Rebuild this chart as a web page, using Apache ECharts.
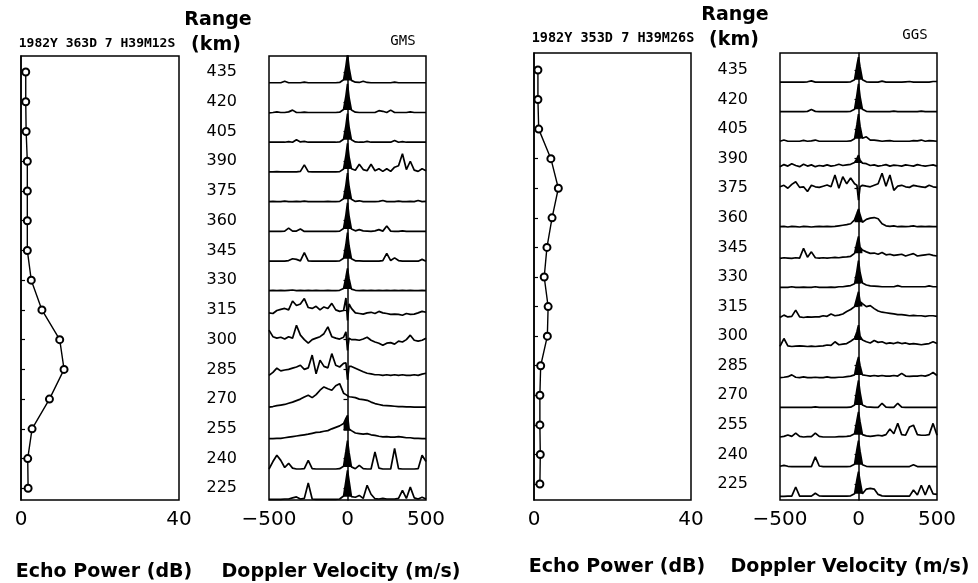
<!DOCTYPE html>
<html>
<head>
<meta charset="utf-8">
<title>Echo power and Doppler spectra, GMS / GGS</title>
<script src="https://cdn.jsdelivr.net/npm/echarts@6.0.0/dist/echarts.min.js"></script>
<style>
html, body { margin: 0; padding: 0; background: #fff; }
#chart { width: 978px; height: 583px; }
</style>
</head>
<body>
<div id="chart"></div>
<script>
// range gates, top to bottom (km)
var ranges = [435, 420, 405, 390, 375, 360, 345, 330, 315, 300, 285, 270, 255, 240, 225];

// doppler velocity samples (m/s), denser round 0
var velocities = [-500, -475, -450, -425, -400, -375, -350, -325, -300, -275, -250, -225, -200, -175, -150, -125, -100, -75, -50, -25,
  -10, 0, 10,
  25, 50, 75, 100, 125, 150, 175, 200, 225, 250, 275, 300, 325, 350, 375, 400, 425, 450, 475, 500];

// echo power (dB) per gate
var gmsPower = [1.2, 1.2, 1.3, 1.6, 1.6, 1.6, 1.6, 2.6, 5.3, 9.8, 10.9, 7.2, 2.8, 1.7, 1.8];
var ggsPower = [1.0, 1.0, 1.2, 4.3, 6.2, 4.6, 3.3, 2.6, 3.6, 3.4, 1.7, 1.5, 1.5, 1.6, 1.5];

// spectral amplitude, % of one gate spacing above the trace baseline
var gmsSpectra = [
  [4,4,4,4,9,4,4,4,4,6,4,4,4,4,4,4,4,4,5,14,  60,100,55,  12,6,5,9,5,4,4,4,4,4,4,6,4,4,4,4,4,4,4,4], // 435
  [3,4,6,4,4,6,12,4,4,5,4,4,4,4,4,4,4,4,5,14,  60,100,55,  12,5,4,4,4,4,4,10,8,4,12,4,4,4,4,6,4,4,4,4], // 420
  [4,4,4,4,4,6,4,12,5,7,4,4,4,4,4,4,4,4,5,14,  60,100,55,  12,5,4,4,7,4,4,4,4,4,4,10,4,6,4,4,4,4,4,4], // 405
  [4,4,5,4,4,4,4,4,6,28,5,4,4,4,4,4,4,4,5,14,  60,100,55,  15,10,30,12,8,30,8,15,6,15,6,20,25,65,12,40,10,6,15,8], // 390
  [4,5,4,4,6,4,4,5,4,6,4,4,4,4,4,5,4,4,5,14,  60,100,55,  12,5,7,4,4,4,4,5,8,4,4,4,6,4,4,5,4,8,4,5], // 375
  [4,4,4,4,5,15,5,5,12,4,4,4,4,4,4,4,4,4,5,14,  60,100,55,  12,6,10,6,5,4,6,10,5,22,5,4,4,6,4,4,4,4,4,4], // 360
  [4,4,4,4,4,6,12,10,5,33,5,4,4,4,4,4,4,4,5,14,  60,100,55,  12,5,5,4,4,4,4,4,6,30,6,15,6,4,4,4,4,4,10,4], // 345
  [5,6,5,6,5,6,7,5,6,5,6,5,6,5,5,6,5,5,6,12,  50,80,45,  10,6,5,6,5,6,5,6,5,6,5,6,5,6,5,6,5,5,6,5], // 330
  [30,28,38,42,45,40,70,55,60,78,48,45,52,40,50,45,62,40,35,38,  80,5,60,  45,30,28,26,30,32,28,35,30,28,25,26,25,22,28,25,26,30,35,32], // 315
  [72,50,45,48,42,50,45,88,55,40,28,40,45,50,60,83,50,45,42,48,  66,4,45,  40,40,38,42,48,38,32,28,21,28,30,25,35,32,40,55,38,35,38,45], // 300
  [20,30,44,35,38,40,44,48,54,40,45,88,25,71,50,45,93,54,48,60,  62,5,50,  50,44,38,32,27,25,22,22,20,22,20,22,20,22,20,20,22,20,24,27], // 285
  [13,15,18,20,22,26,30,35,40,47,53,45,55,70,81,75,70,85,92,60,  55,50,48,  47,45,40,38,36,30,25,22,19,18,17,16,15,15,14,14,13,13,13,13], // 270
  [7,7,8,8,10,12,14,16,18,20,22,25,28,29,32,34,40,45,50,58,  75,85,40,  34,26,24,22,24,20,18,15,13,14,12,12,14,12,10,10,8,8,7,7], // 255
  [5,30,51,34,10,24,8,5,5,6,34,6,5,5,5,5,5,5,6,14,  65,100,60,  12,6,17,6,5,5,62,8,5,5,5,74,6,5,5,5,5,6,51,30], // 240
  [3,3,3,3,4,4,8,11,4,6,58,4,3,3,3,3,3,3,4,14,  65,100,65,  12,10,16,6,50,20,5,4,6,4,4,4,6,33,6,44,8,4,10,4] // 225
];

var ggsSpectra = [
  [4,4,4,4,4,4,4,5,8,4,4,4,4,4,4,4,4,4,5,12,  60,88,55,  12,5,4,4,4,7,4,4,4,4,4,5,6,4,4,4,4,4,6,6], // 435
  [4,4,4,4,4,4,4,5,11,5,4,4,4,4,4,4,4,4,5,12,  60,98,55,  12,5,4,4,4,4,4,4,6,4,4,4,4,4,4,6,4,4,4,4], // 420
  [4,8,4,4,4,4,7,4,5,8,4,4,4,4,4,4,4,4,5,12,  60,96,55,  14,19,8,8,6,4,5,6,4,4,4,4,4,6,5,8,4,6,5,4], // 405
  [18,25,20,28,22,18,26,20,24,18,22,20,24,20,22,26,22,24,26,32,  45,57,40,  30,28,22,24,20,22,25,20,23,22,20,24,22,20,25,22,20,22,24,20], // 390
  [50,55,45,58,67,48,50,34,55,50,48,52,56,50,90,45,84,60,80,60,  55,5,50,  55,52,50,55,60,96,52,90,38,52,55,50,48,55,52,50,48,55,50,48], // 375
  [15,16,14,16,15,14,16,15,14,15,16,15,16,15,16,18,20,22,25,38,  60,75,55,  30,40,44,46,42,25,18,16,18,15,16,15,16,18,15,16,15,16,15,15], // 360
  [8,10,9,8,10,9,42,12,30,10,9,10,9,10,11,10,12,13,15,25,  60,82,45,  36,30,25,26,22,28,20,22,18,20,22,16,20,24,16,18,20,22,18,16], // 345
  [10,10,10,12,10,10,11,10,10,12,10,10,10,11,10,12,12,14,16,22,  65,100,60,  25,18,15,14,13,12,12,12,12,16,12,12,12,12,12,12,12,15,12,12], // 330
  [8,16,10,12,33,10,8,10,9,10,10,14,12,20,14,16,20,28,35,45,  75,95,62,  55,45,48,38,30,26,24,22,20,18,18,16,14,15,14,14,12,14,14,12], // 315
  [10,37,12,10,11,12,11,10,11,10,11,12,15,14,26,16,18,20,28,37,  60,82,45,  32,26,22,30,24,26,20,22,20,24,20,22,18,20,18,16,18,20,26,20], // 300
  [5,6,8,14,6,5,7,5,5,6,5,5,7,5,5,6,6,8,10,14,  55,75,45,  14,12,10,12,10,12,10,10,12,10,19,10,9,10,10,12,10,14,22,12], // 285
  [4,4,4,4,4,4,4,4,4,6,4,4,4,4,4,4,4,4,5,12,  65,95,55,  12,6,5,4,4,18,5,4,4,18,5,4,4,4,4,4,4,4,4,4], // 270
  [4,6,11,6,17,6,4,5,5,17,6,4,4,4,4,5,5,6,8,15,  60,89,55,  12,8,6,8,10,8,12,31,15,50,12,10,38,44,12,10,10,12,50,10], // 255
  [5,8,5,4,4,4,4,4,4,37,6,4,4,4,4,4,4,4,5,12,  62,92,55,  10,5,4,4,4,4,4,4,4,4,4,4,4,10,4,4,4,4,4,4], // 240
  [3,3,4,4,35,4,4,4,4,14,5,4,4,4,4,4,4,4,5,12,  60,87,55,  12,28,30,28,10,5,4,4,4,4,4,4,4,25,8,41,8,41,12,10] // 225
];

var FONT = '"DejaVu Sans", sans-serif';
var MONO = '"DejaVu Sans Mono", monospace';
var ZERO = 21; // index of 0 m/s in velocities

var panels = [
  { power: gmsPower, spectra: gmsSpectra, offset: 6, yMin: 219.1, yMax: 443.1,
    echo: { left: 21, top: 56, width: 158, height: 444 },
    spec: { left: 269, top: 56, width: 157, height: 444 } },
  { power: ggsPower, spectra: ggsSpectra, offset: 6.75, yMin: 216.9, yMax: 443.6,
    echo: { left: 534, top: 53, width: 157, height: 447 },
    spec: { left: 780, top: 53, width: 157, height: 447 } }
];

function minusSign(v) {
  return v < 0 ? '\u2212' + (-v) : String(v);
}

function spectrumPoints(row, base) {
  return velocities.map(function (v, i) {
    return [v, base + row[i] * 0.15];
  });
}

var grids = [], xAxes = [], yAxes = [], series = [];

panels.forEach(function (p, n) {
  var ge = 2 * n, gs = 2 * n + 1;
  [p.echo, p.spec].forEach(function (g) {
    grids.push({
      left: g.left, top: g.top, width: g.width, height: g.height,
      show: true, borderColor: '#000', borderWidth: 1.5,
      backgroundColor: 'transparent', containLabel: false, outerBoundsMode: 'none'
    });
  });

  // echo power axes
  xAxes.push({
    gridIndex: ge, type: 'value', min: 0, max: 40, interval: 40,
    axisLine: { show: false }, axisTick: { show: false }, splitLine: { show: false },
    axisLabel: { color: '#000', fontSize: 20, fontFamily: FONT, margin: 10, showMinLabel: true, showMaxLabel: true }
  });
  yAxes.push({
    gridIndex: ge, type: 'value', position: 'right', min: p.yMin, max: p.yMax,
    axisLine: { show: true, lineStyle: { color: '#000', width: 1.5 } },
    axisTick: { show: true, inside: false, length: 4, customValues: ranges, lineStyle: { color: '#000', width: 1.2 } },
    axisLabel: { show: false }, splitLine: { show: false }
  });

  // spectra axes
  xAxes.push({
    gridIndex: gs, type: 'value', min: -500, max: 500, interval: 500,
    axisLine: { show: false }, axisTick: { show: false }, splitLine: { show: false },
    axisLabel: { color: '#000', fontSize: 20, fontFamily: FONT, margin: 10, formatter: minusSign,
      showMinLabel: true, showMaxLabel: true }
  });
  yAxes.push({
    gridIndex: gs, type: 'value', position: 'left', min: p.yMin, max: p.yMax,
    axisLine: { show: true, lineStyle: { color: '#000', width: 1.5 } },
    axisTick: { show: true, inside: false, length: 4, customValues: ranges, lineStyle: { color: '#000', width: 1.2 } },
    axisLabel: { show: true, customValues: ranges, color: '#000', fontSize: 16, fontFamily: FONT, margin: 32 },
    splitLine: { show: false }
  });

  series.push({
    type: 'line', xAxisIndex: ge, yAxisIndex: ge, silent: true, z: 3,
    data: ranges.map(function (r, i) { return [p.power[i], r]; }),
    symbol: 'emptyCircle', symbolSize: 7, showSymbol: true,
    lineStyle: { color: '#000', width: 1.4 },
    itemStyle: { color: '#000', borderColor: '#000', borderWidth: 1.5 }
  });

  p.spectra.forEach(function (row, k) {
    var base = ranges[k] - p.offset;
    var pts = spectrumPoints(row, base);
    series.push({
      type: 'line', xAxisIndex: gs, yAxisIndex: gs, silent: true,
      data: pts, symbol: 'none', showSymbol: false,
      lineStyle: { color: '#000', width: 1.7, join: 'bevel' }
    });
    // black fill of the zero-velocity peak above its local floor
    if (row[ZERO] >= row[ZERO - 1] && row[ZERO] >= row[ZERO + 1]) {
      var floor = base + Math.min(row[ZERO - 2], row[ZERO + 2]) * 0.15;
      series.push({
        type: 'line', xAxisIndex: gs, yAxisIndex: gs, silent: true,
        data: pts.slice(ZERO - 2, ZERO + 3), symbol: 'none', showSymbol: false,
        lineStyle: { width: 0, opacity: 0 },
        areaStyle: { color: '#000', opacity: 1, origin: floor }
      });
    }
  });
});

function label(text, x, y, font, size, weight) {
  return {
    type: 'text', x: x, y: y, silent: true,
    style: { text: text, x: 0, y: 0, fill: '#000', font: (weight || 'normal') + ' ' + size + 'px ' + font,
      textAlign: 'center', textVerticalAlign: 'middle', align: 'center', verticalAlign: 'middle' }
  };
}

var chart = echarts.init(document.getElementById('chart'));
chart.setOption({
  animation: false,
  backgroundColor: '#fff',
  grid: grids,
  xAxis: xAxes,
  yAxis: yAxes,
  series: series,
  graphic: [
    label('1982Y 363D 7 H39M12S', 97, 44, MONO, 13, 'bold'),
    label('Range', 218, 20, FONT, 19, 'bold'),
    label('(km)', 216, 45, FONT, 19, 'bold'),
    label('GMS', 403, 41, MONO, 14),
    label('Echo Power (dB)', 104, 572, FONT, 19, 'bold'),
    label('Doppler Velocity (m/s)', 341, 572, FONT, 19, 'bold'),
    label('1982Y 353D 7 H39M26S', 613, 38, MONO, 13.5, 'bold'),
    label('Range', 735, 15, FONT, 19, 'bold'),
    label('(km)', 734, 40, FONT, 19, 'bold'),
    label('GGS', 915, 35, MONO, 14),
    label('Echo Power (dB)', 617, 567, FONT, 19, 'bold'),
    label('Doppler Velocity (m/s)', 850, 567, FONT, 19, 'bold')
  ]
});
</script>
</body>
</html>
